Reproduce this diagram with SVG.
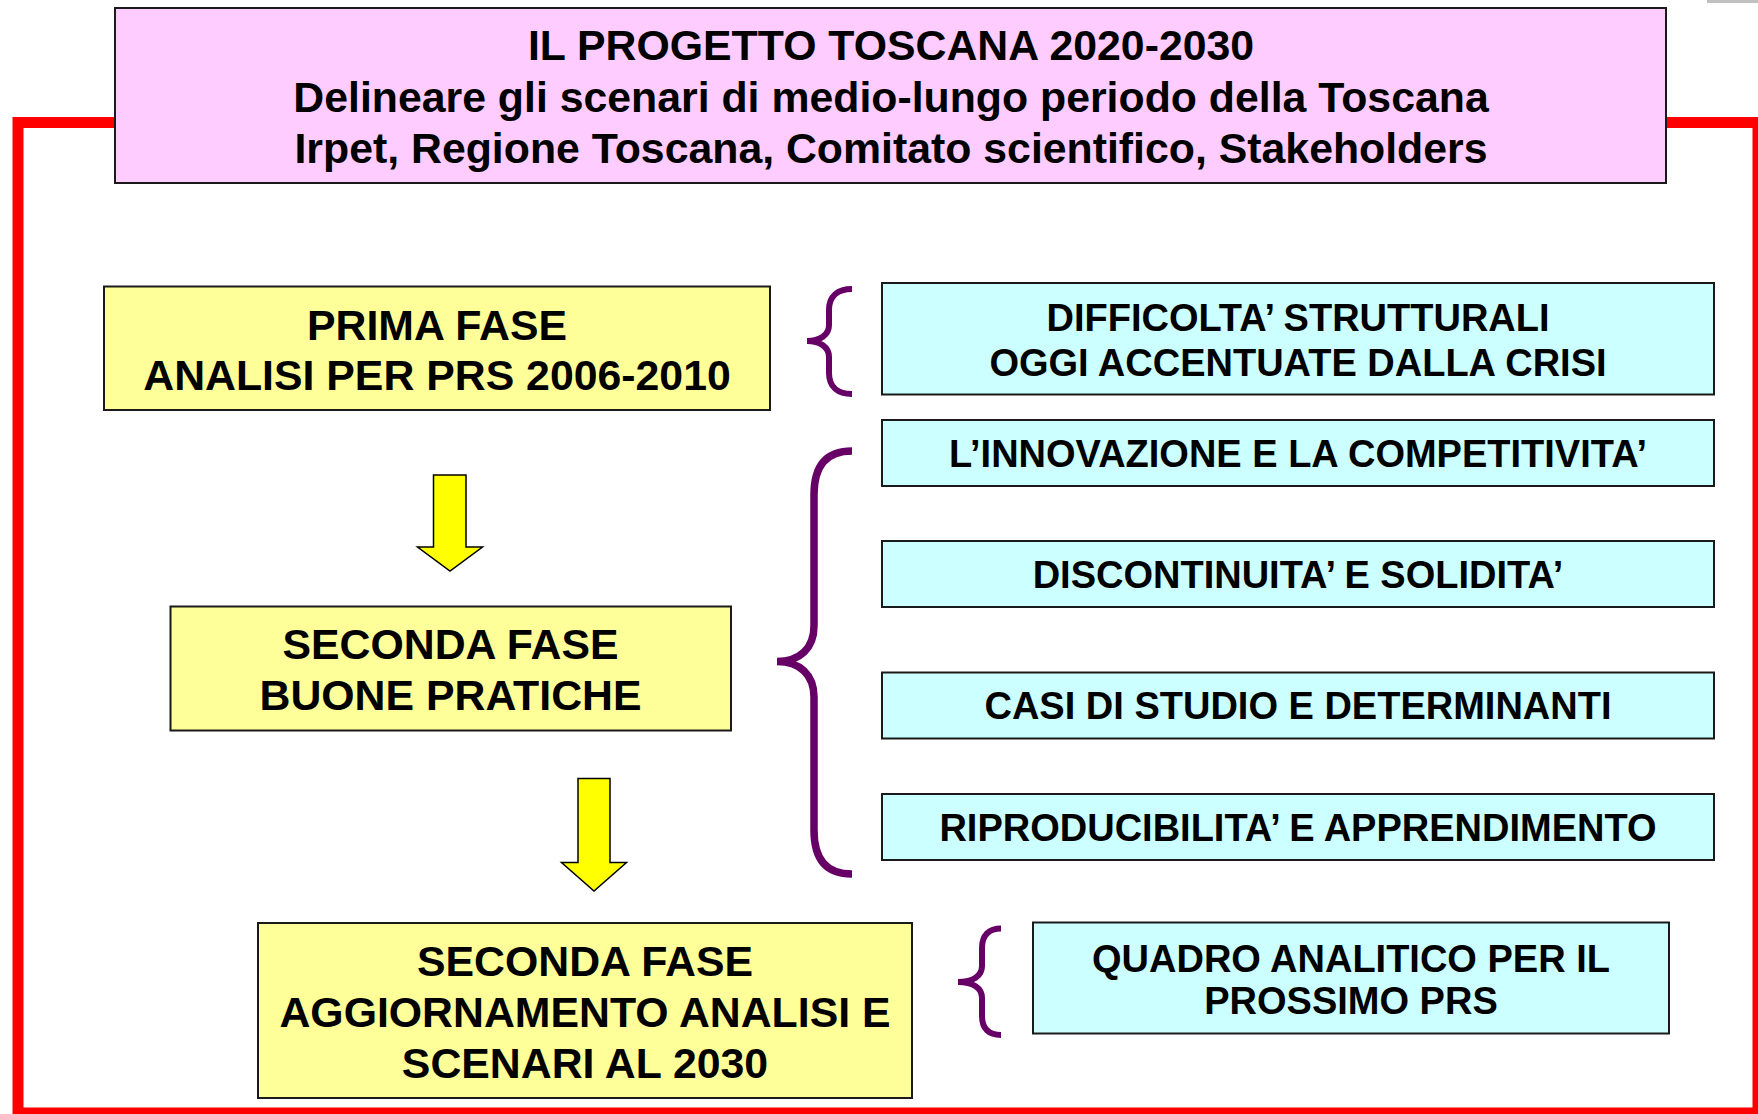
<svg xmlns="http://www.w3.org/2000/svg" width="1758" height="1114" viewBox="0 0 1758 1114">
<style>
.box{stroke:#1a1a1a;stroke-width:2}
.pink{fill:#FFCCFF}
.yel{fill:#FFFF99}
.cyan{fill:#CCFFFF}
text{font-family:"Liberation Sans",Arial,Helvetica,sans-serif;font-weight:bold;fill:#000;text-anchor:middle}
.big{font-size:42.8px}
.mid{font-size:38px}
.brace{fill:none;stroke:#660066;stroke-linecap:butt}
.arrow{fill:#FFFF00;stroke:#000;stroke-width:1.5;stroke-linejoin:miter}
</style>
<rect x="0" y="0" width="1758" height="1114" fill="#fff"/>
<rect x="1707" y="0" width="51" height="3" fill="#c0c0c0"/>
<rect id="frame" x="18" y="122.5" width="1740" height="990.5" fill="none" stroke="#FF0000" stroke-width="11"/>

<g id="title">
<rect class="box pink" x="115" y="8" width="1551" height="175"/>
<text class="big" x="891" y="60">IL PROGETTO TOSCANA 2020-2030</text>
<text class="big" x="891" y="112">Delineare gli scenari di medio-lungo periodo della Toscana</text>
<text class="big" x="891" y="163">Irpet, Regione Toscana, Comitato scientifico, Stakeholders</text>
</g>

<g id="prima-fase">
<rect class="box yel" x="104" y="286.5" width="666" height="123.5"/>
<text class="big" x="437" y="339.5">PRIMA FASE</text>
<text class="big" x="437" y="389.5">ANALISI PER PRS 2006-2010</text>
</g>

<g id="seconda-fase-1">
<rect class="box yel" x="170.5" y="606.5" width="560.5" height="124"/>
<text class="big" x="450.5" y="659">SECONDA FASE</text>
<text class="big" x="450.5" y="710">BUONE PRATICHE</text>
</g>

<g id="seconda-fase-2">
<rect class="box yel" x="258" y="923" width="654" height="175"/>
<text class="big" x="585" y="976">SECONDA FASE</text>
<text class="big" x="585" y="1026.5">AGGIORNAMENTO ANALISI E</text>
<text class="big" x="585" y="1077.5">SCENARI AL 2030</text>
</g>

<g id="difficolta">
<rect class="box cyan" x="882" y="283" width="832" height="111.5"/>
<text class="mid" x="1298" y="331">DIFFICOLTA’ STRUTTURALI</text>
<text class="mid" x="1298" y="375.5">OGGI ACCENTUATE DALLA CRISI</text>
</g>

<g id="innovazione">
<rect class="box cyan" x="882" y="420" width="832" height="66"/>
<text class="mid" x="1298" y="466.6">L’INNOVAZIONE E LA COMPETITIVITA’</text>
</g>

<g id="discontinuita">
<rect class="box cyan" x="882" y="541" width="832" height="66"/>
<text class="mid" x="1298" y="587.6">DISCONTINUITA’ E SOLIDITA’</text>
</g>

<g id="casi">
<rect class="box cyan" x="882" y="672.5" width="832" height="66"/>
<text class="mid" x="1298" y="719">CASI DI STUDIO E DETERMINANTI</text>
</g>

<g id="riproducibilita">
<rect class="box cyan" x="882" y="794" width="832" height="66"/>
<text class="mid" x="1298" y="840.6">RIPRODUCIBILITA’ E APPRENDIMENTO</text>
</g>

<g id="quadro">
<rect class="box cyan" x="1033" y="922.5" width="636" height="111"/>
<text class="mid" x="1351" y="972">QUADRO ANALITICO PER IL</text>
<text class="mid" x="1351" y="1013.5">PROSSIMO PRS</text>
</g>

<g id="connectors">
<polygon class="arrow" points="433.5,475 466,475 466,547 482.5,547 450,571 417.5,547 433.5,547"/>
<polygon class="arrow" points="578,778.5 610,778.5 610,862.5 626.5,862.5 594,891 561.5,862.5 578,862.5"/>
<path class="brace" stroke-width="6" d="M852,289 C838,289 829,296 829,310 L829,325 C829,335 820,341 807,341 C820,341 829,347 829,357 L829,373 C829,387 838,394 852,394"/>
<path class="brace" stroke-width="7.5" d="M852,451 C826,451 814,466 814,495 L814,626 C814,648 800,661.5 777,661.5 C800,661.5 814,675 814,697 L814,830 C814,859 826,874 852,874"/>
<path class="brace" stroke-width="6" d="M1001,928.5 C989,928.5 982,935 982,948 L982,966 C982,976 973,982 958,982 C973,982 982,988 982,998 L982,1016 C982,1029 989,1035 1001,1035"/>
</g>
</svg>
